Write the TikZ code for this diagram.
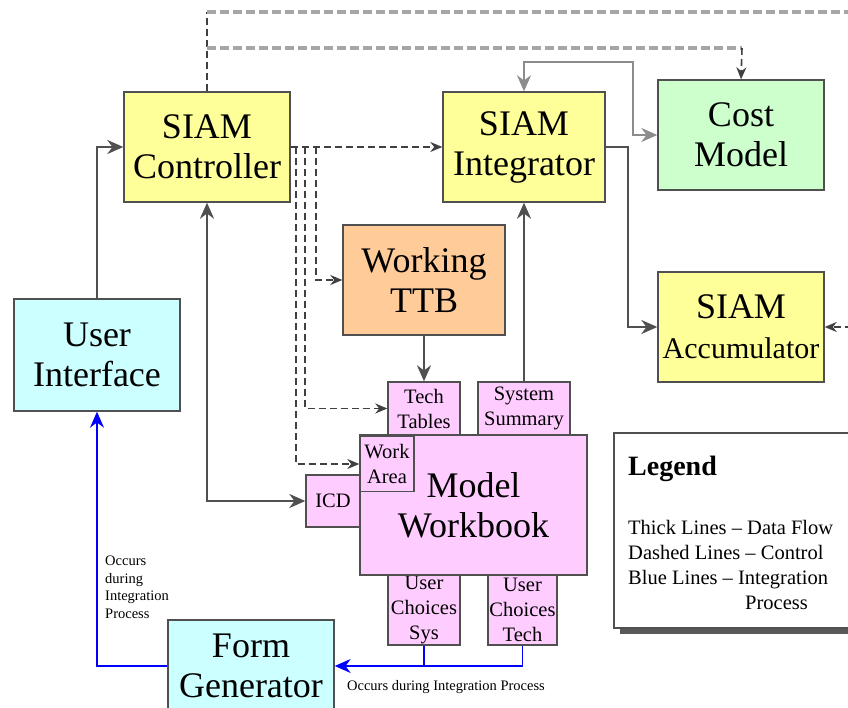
\documentclass[tikz,border=0pt]{standalone}
\usepackage{fontspec}
\setmainfont{Liberation Serif}
\usetikzlibrary{arrows.meta,shadows}

\definecolor{siamyellow}{RGB}{255,255,153}
\definecolor{costgreen}{RGB}{204,255,204}
\definecolor{ttborange}{RGB}{255,204,153}
\definecolor{uicyan}{RGB}{204,255,255}
\definecolor{wbpink}{RGB}{255,204,255}
\definecolor{linegrey}{RGB}{80,80,80}

\begin{document}
\begin{tikzpicture}[x=1pt,y=-1pt,
        box/.style = {draw=linegrey,line width=1.4pt,inner sep=0pt,align=center,
            font=\fontsize{36}{40}\selectfont},
        smallbox/.style = {box,fill=wbpink,font=\fontsize{20.5}{25}\selectfont},
        data/.style = {draw=linegrey,line width=2.6pt,-{Stealth[length=16pt,width=14pt]}},
        feed/.style = {draw=black!45,line width=2pt,{Stealth[length=16pt,width=14pt]}-{Stealth[length=16pt,width=14pt]}},
        ctrlline/.style = {draw=black!75,line width=1.6pt,dash pattern=on 7pt off 4pt,
            -{Stealth[length=12pt,width=10pt]}},
        greydash/.style = {draw=black!35,line width=3.8pt,dash pattern=on 9pt off 4pt},
        integline/.style = {draw=blue,line width=1.4pt,-{Stealth[length=16pt,width=14pt]}},
        note/.style = {inner sep=0pt,font=\fontsize{14.5}{17.5}\selectfont}]
    \useasboundingbox (0,0) rectangle (848,708);
    \clip (0,0) rectangle (848,708);
    \fill[white] (0,0) rectangle (848,708);

    % main boxes
    \node [box,fill=siamyellow,minimum width=166pt,minimum height=110pt] (ctrl) at (207,147) {SIAM\\Controller};
    \node [box,fill=siamyellow,minimum width=162pt,minimum height=110pt] (integ) at (524,147) {SIAM\\Integrator};
    \node [box,fill=costgreen,minimum width=166pt,minimum height=110pt] (cost) at (741,135) {Cost\\Model};
    \node [box,fill=ttborange,minimum width=162pt,minimum height=110pt] (ttb) at (424,280) {Working\\TTB};
    \node [box,fill=siamyellow,minimum width=166pt,minimum height=110pt] (accum) at (741,327)
        {SIAM\\{\fontsize{30}{34}\selectfont Accumulator}};
    \node [box,fill=uicyan,minimum width=166pt,minimum height=112pt] (ui) at (97,355) {User\\Interface};
    \node [box,fill=uicyan,minimum width=166pt,minimum height=92pt] (formgen) at (251,666) {Form\\Generator};

    % workbook and its tabs
    \node [smallbox,minimum width=72pt,minimum height=53pt] (techtab) at (424,408.5) {Tech\\Tables};
    \node [smallbox,minimum width=92pt,minimum height=53pt] (syssum) at (524,408.5) {System\\Summary};
    \node [smallbox,minimum width=72pt,minimum height=70pt] (ucsys) at (424,610) {User\\Choices\\Sys};
    \node [smallbox,minimum width=69pt,minimum height=70pt] (uctech) at (522.5,610) {User\\Choices\\Tech};
    \node [smallbox,minimum width=54pt,minimum height=52pt] (icd) at (333,501) {ICD};
    \node [box,fill=wbpink,minimum width=227pt,minimum height=140pt] (workbook) at (473.5,505) {Model\\Workbook};
    \node [smallbox,minimum width=54pt,minimum height=55pt] (workarea) at (387,464) {Work\\Area};

    % legend
    \node [draw=linegrey,line width=1.4pt,fill=white,minimum width=238pt,minimum height=195pt,
        drop shadow={shadow xshift=6pt,shadow yshift=-6pt,fill=black!65,opacity=1}] (legend) at (733,530.5) {};
    \node [anchor=base west,inner sep=0pt,font=\fontsize{28}{30}\selectfont\bfseries] (lgtitle) at (628,475) {Legend};
    \node [anchor=north west,inner sep=0pt,align=left,font=\fontsize{20.5}{25}\selectfont] (lgtext) at (628,520)
        {Thick Lines – Data Flow\\Dashed Lines – Control\\Blue Lines – Integration\\\hspace*{117pt}Process};

    % data flow
    \draw [data] (ui.north) |- (ctrl.west);
    \draw [data,{Stealth[length=16pt,width=14pt]}-{Stealth[length=16pt,width=14pt]}] (ctrl.south) |- (icd.west);
    \draw [data] (ttb.south) -- (techtab.north);
    \draw [data] (syssum.north) -- (integ.south);
    \coordinate (accturn) at (628,147);
    \draw [data] (integ.east) -- (accturn) |- (accum.west);
    \coordinate (costturn) at (633,62);
    \draw [feed] (integ.north) |- (costturn) |- (cost.west);

    % control
    \coordinate (topL) at (207,12);
    \coordinate (topR) at (852,12);
    \coordinate (midL) at (207,48);
    \coordinate (midR) at (742,48);
    \draw [ctrlline,-] (ctrl.north) -- (topL);
    \draw [greydash] (topL) -- (topR);
    \draw [greydash] (midL) -- (midR);
    \draw [ctrlline] (midR) -- (cost.north);
    \coordinate (accin) at (852,327);
    \draw [ctrlline] (accin) -- (accum.east);
    \draw [ctrlline] (ctrl.east) -- (integ.west);
    \coordinate (brttb) at (316,147);
    \coordinate (brtech) at (305,147);
    \coordinate (brwork) at (296,147);
    \draw [ctrlline] (brttb) |- (ttb.west);
    \draw [ctrlline] (brtech) |- (techtab.west);
    \draw [ctrlline] (brwork) |- (workarea.west);

    % integration
    \draw [integline] (uctech.south) |- (formgen.east);
    \draw [integline,-] (ucsys.south) -- (ucsys.south |- formgen.east);
    \draw [integline] (formgen.west) -| (ui.south);
    \node [note,anchor=north west,align=left] (occside) at (105,556) {Occurs\\during\\Integration\\Process};
    \node [note] (occbottom) at (446,687) {Occurs during Integration Process};
\end{tikzpicture}
\end{document}
